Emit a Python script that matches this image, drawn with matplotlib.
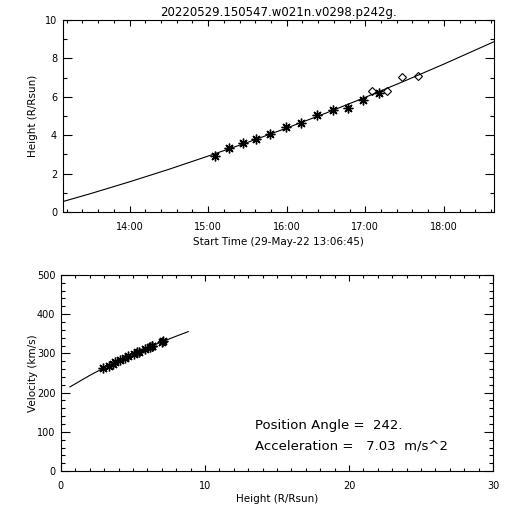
import matplotlib
matplotlib.use("Agg")
import matplotlib.pyplot as plt
from matplotlib.ticker import MultipleLocator, FixedLocator, FixedFormatter

plt.rcParams['font.family'] = ['DejaVu Sans']

# ---------------- data ----------------
title = "20220529.150547.w021n.v0298.p242g."

# height-time measurements (decimal hours UT, R/Rsun)
t_ast = [15.093, 15.27, 15.445, 15.614, 15.788, 15.99, 16.18, 16.39, 16.59, 16.78, 16.97, 17.18]
h_ast = [2.93, 3.32, 3.59, 3.78, 4.08, 4.43, 4.65, 5.05, 5.31, 5.40, 5.85, 6.20]
t_dia = [17.09, 17.28, 17.47, 17.67]
h_dia = [6.32, 6.32, 7.05, 7.08]

# fitted height-time curve
t_fit = [13.15, 13.5, 14.0, 14.5, 15.0, 15.5, 16.0, 16.5, 17.0, 17.5, 18.0, 18.64]
h_fit = [0.54, 0.95, 1.57, 2.22, 2.91, 3.62, 4.37, 5.15, 5.97, 6.82, 7.70, 8.87]

hour_ticks = [14, 15, 16, 17, 18]
hour_labels = ["14:00", "15:00", "16:00", "17:00", "18:00"]

# velocity vs height
h_vel = [2.93, 3.32, 3.59, 3.78, 4.08, 4.43, 4.65, 5.05, 5.31, 5.40, 5.85, 6.20, 6.32, 6.32, 7.05, 7.08]
v_vel = [261.9, 269.0, 273.9, 277.3, 282.5, 288.5, 292.2, 298.9, 303.1, 304.5, 311.7, 317.1, 319.0, 319.0, 330.0, 330.4]
h_vfit = [0.625, 2.0, 3.0, 4.0, 5.0, 6.0, 7.0, 8.0, 8.84]
v_vfit = [214.5, 243.9, 263.2, 281.1, 298.0, 314.0, 329.2, 343.8, 355.5]

position_angle = "242."
acceleration = "7.03"

# ---------------- figure ----------------
fig = plt.figure(figsize=(5.12, 5.12), dpi=100)
ax1 = fig.add_axes([0.1225, 0.586, 0.8425, 0.375])
ax2 = fig.add_axes([0.119, 0.080, 0.844, 0.383])

lw = 0.8
ast = (8, 2, 0)

def style(ax, xmaj_len, xmin_len, ymaj_len, ymin_len):
    for s in ax.spines.values():
        s.set_linewidth(lw)
    ax.tick_params(axis='x', which='major', direction='in', length=xmaj_len, width=lw,
                   top=True, bottom=True, labelsize=7, pad=7)
    ax.tick_params(axis='x', which='minor', direction='in', length=xmin_len, width=lw,
                   top=True, bottom=True)
    ax.tick_params(axis='y', which='major', direction='in', length=ymaj_len, width=lw,
                   left=True, right=True, labelsize=7, pad=4)
    ax.tick_params(axis='y', which='minor', direction='in', length=ymin_len, width=lw,
                   left=True, right=True)

# top panel
ax1.plot(t_fit, h_fit, color='black', lw=lw)
ax1.plot(t_ast, h_ast, linestyle='none', marker=ast, ms=7, mew=1.0, color='black')
ax1.plot(t_dia, h_dia, linestyle='none', marker='D', ms=4.5, mfc='none', mec='black', mew=0.8)
ax1.set_xlim(13.15, 18.64)
ax1.set_ylim(0, 10)
ax1.xaxis.set_major_locator(FixedLocator(hour_ticks))
ax1.xaxis.set_major_formatter(FixedFormatter(hour_labels))
ax1.xaxis.set_minor_locator(MultipleLocator(0.2))
ax1.yaxis.set_major_locator(MultipleLocator(2))
ax1.yaxis.set_minor_locator(MultipleLocator(1))
style(ax1, 4, 2, 6.2, 3.1)
ax1.set_xlabel("Start Time (29-May-22 13:06:45)", fontsize=7.5)
ax1.set_ylabel("Height (R/Rsun)", fontsize=7.5)
ax1.xaxis.set_label_coords(0.5, -0.13)
ax1.yaxis.set_label_coords(-0.058, 0.5)
ax1.set_title(title, fontsize=8.5, pad=3)

# bottom panel
ax2.plot(h_vfit, v_vfit, color='black', lw=lw)
ax2.plot(h_vel, v_vel, linestyle='none', marker=ast, ms=7, mew=1.0, color='black')
ax2.set_xlim(0, 30)
ax2.set_ylim(0, 500)
ax2.xaxis.set_major_locator(MultipleLocator(10))
ax2.xaxis.set_minor_locator(MultipleLocator(1))
ax2.yaxis.set_major_locator(MultipleLocator(100))
ax2.yaxis.set_minor_locator(MultipleLocator(20))
style(ax2, 4, 2, 6.2, 3.1)
ax2.set_xlabel("Height (R/Rsun)", fontsize=7.5)
ax2.set_ylabel("Velocity (km/s)", fontsize=7.5)
ax2.xaxis.set_label_coords(0.5, -0.117)
ax2.yaxis.set_label_coords(-0.054, 0.5)

fig.text(255 / 512, 1 - 426 / 512, "Position Angle =  " + position_angle,
         fontsize=9.5, ha='left', va='center')
fig.text(255 / 512, 1 - 446 / 512, "Acceleration =   " + acceleration + "  m/s^2",
         fontsize=9.5, ha='left', va='center')

fig.savefig("out.png", dpi=100)
